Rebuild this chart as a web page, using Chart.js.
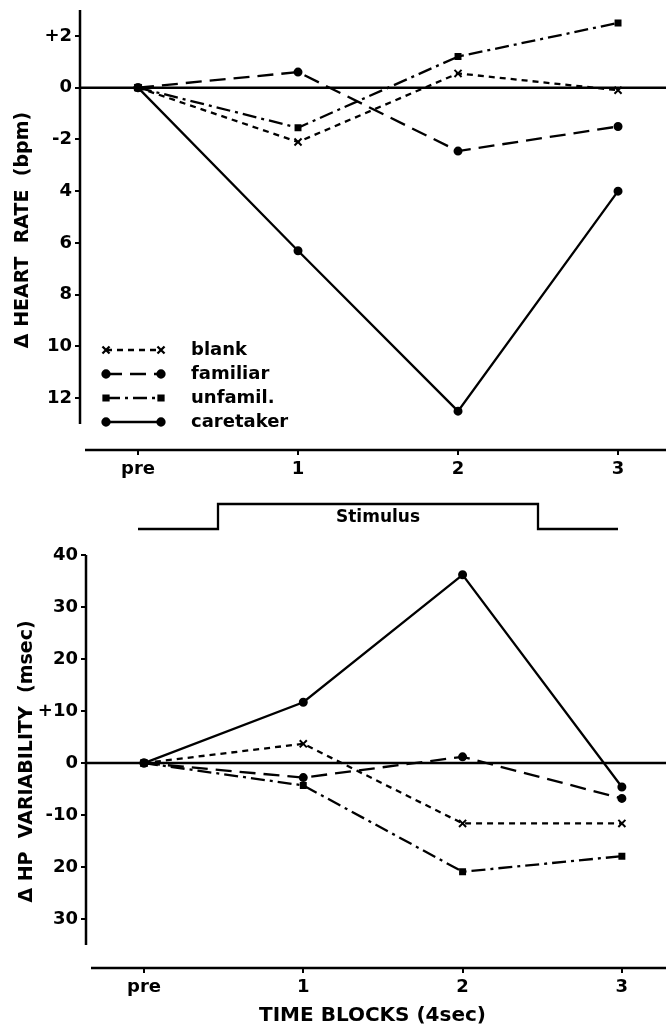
<!DOCTYPE html>
<html lang="en">
<head>
<meta charset="UTF-8" />
<title>Heart rate and HP variability</title>
<script src="https://cdn.jsdelivr.net/npm/chart.js"></script>
<style>
  body { margin: 0; background: #fff; }
  #page { position: relative; width: 666px; height: 1028px; }
  canvas { position: absolute; left: 0; }
</style>
</head>
<body>
<div id="page">
  <canvas id="hr" width="666" height="490" style="top:0"></canvas>
  <canvas id="stim" width="666" height="50" style="top:490px"></canvas>
  <canvas id="hp" width="666" height="488" style="top:540px"></canvas>
</div>
<script>
// values
var blocks = ['pre', '1', '2', '3'];
var seriesNames = ['blank', 'familiar', 'unfamil.', 'caretaker'];

var hrBlank = [0, -2.1, 0.55, -0.1];
var hrFamiliar = [0, 0.6, -2.45, -1.5];
var hrUnfamil = [0, -1.55, 1.2, 2.5];
var hrCaretaker = [0, -6.3, -12.5, -4.0];

var hpBlank = [0, 3.7, -11.6, -11.6];
var hpFamiliar = [0, -2.8, 1.2, -6.8];
var hpUnfamil = [0, -4.3, -20.9, -17.9];
var hpCaretaker = [0, 11.7, 36.2, -4.6];

var hrTicks = [2, 0, -2, -4, -6, -8, -10, -12];
var hrTickLabels = ['+2', '0', '-2', '4', '6', '8', '10', '12'];
var hpTicks = [40, 30, 20, 10, 0, -10, -20, -30];
var hpTickLabels = ['40', '30', '20', '+10', '0', '-10', '20', '30'];

var stimX = [0, 0.5, 0.5, 2.5, 2.5, 3];
var stimY = [0, 0, 1, 1, 0, 0];

Chart.defaults.font.family = "'DejaVu Sans', sans-serif";
Chart.defaults.font.weight = 'bold';
Chart.defaults.color = '#000';

// line look of each group
var styles = [
  { dash: [6, 5], point: 'crossRot', radius: 5 },
  { dash: [16, 8], point: 'circle', radius: 3.5 },
  { dash: [14, 5, 3, 5], point: 'rect', radius: 3.5 },
  { dash: [], point: 'circle', radius: 3.5 }
];

function toPoints(values) {
  return values.map(function (v, i) { return { x: i, y: v }; });
}

function makeDatasets(list) {
  return list.map(function (values, i) {
    return {
      label: seriesNames[i],
      data: toPoints(values),
      borderColor: '#000',
      backgroundColor: '#000',
      borderWidth: 2.3,
      borderDash: styles[i].dash,
      pointStyle: styles[i].point,
      pointRadius: styles[i].radius,
      pointBorderWidth: 2,
      tension: 0
    };
  });
}

// axis lines, zero line (run to the right edge of the page)
var frame = {
  id: 'frame',
  beforeDatasetsDraw: function (chart, args, opts) {
    var ctx = chart.ctx, area = chart.chartArea, y = chart.scales.y;
    ctx.save();
    ctx.strokeStyle = '#000';
    ctx.lineWidth = 2.5;
    ctx.beginPath();
    ctx.moveTo(area.left, y.getPixelForValue(0));
    ctx.lineTo(chart.width, y.getPixelForValue(0));
    ctx.stroke();
    ctx.beginPath();
    ctx.moveTo(area.left, y.getPixelForValue(opts.yTop));
    ctx.lineTo(area.left, y.getPixelForValue(opts.yBottom));
    ctx.stroke();
    ctx.beginPath();
    ctx.moveTo(area.left + opts.xGap, area.bottom);
    ctx.lineTo(chart.width, area.bottom);
    ctx.stroke();
    ctx.restore();
  }
};

// legend drawn inside the upper plot
var dashLegend = {
  id: 'dashLegend',
  afterDraw: function (chart, args, opts) {
    if (!opts.show) return;
    var ctx = chart.ctx;
    ctx.save();
    chart.data.datasets.forEach(function (ds, i) {
      var y = opts.top + i * opts.row;
      ctx.strokeStyle = '#000';
      ctx.fillStyle = '#000';
      ctx.lineWidth = 2.3;
      ctx.setLineDash(ds.borderDash);
      ctx.beginPath();
      ctx.moveTo(opts.left, y);
      ctx.lineTo(opts.left + opts.len, y);
      ctx.stroke();
      ctx.setLineDash([]);
      var p = { pointStyle: ds.pointStyle, radius: ds.pointRadius, rotation: 0, borderWidth: 2 };
      Chart.helpers.drawPoint(ctx, p, opts.left, y);
      Chart.helpers.drawPoint(ctx, p, opts.left + opts.len, y);
      ctx.font = "bold 18px 'DejaVu Sans', sans-serif";
      ctx.textBaseline = 'middle';
      ctx.fillText(ds.label, opts.textX, y);
    });
    ctx.restore();
  }
};

function yScale(ticks, labels, min, max, width, title, titlePad, titleSize) {
  return {
    type: 'linear',
    min: min,
    max: max,
    afterBuildTicks: function (s) { s.ticks = ticks.map(function (v) { return { value: v }; }); },
    afterFit: function (s) { s.width = width; s.paddingTop = 0; s.paddingBottom = 0; },
    ticks: {
      font: { size: 18, weight: 'bold' },
      padding: 3,
      callback: function (v, i) { return labels[i]; }
    },
    grid: { drawOnChartArea: false, drawTicks: true, tickLength: 5, color: '#000', lineWidth: 2 },
    border: { display: false },
    title: { display: true, text: title, font: { size: titleSize, weight: 'bold' }, padding: { top: titlePad, bottom: 0 } }
  };
}

function xScale(min, max, height, title) {
  return {
    type: 'linear',
    min: min,
    max: max,
    afterBuildTicks: function (s) { s.ticks = blocks.map(function (b, i) { return { value: i }; }); },
    afterFit: function (s) { s.height = height; s.paddingLeft = 0; s.paddingRight = 0; },
    ticks: {
      font: { size: 18, weight: 'bold' },
      padding: 4,
      callback: function (v) { return blocks[v]; }
    },
    grid: { drawOnChartArea: false, drawTicks: true, tickLength: 5, color: '#000', lineWidth: 2 },
    border: { display: false },
    title: { display: !!title, text: title || '', font: { size: 20, weight: 'bold' }, padding: { top: 0, bottom: 0 } }
  };
}

new Chart(document.getElementById('hr'), {
  type: 'line',
  data: { datasets: makeDatasets([hrBlank, hrFamiliar, hrUnfamil, hrCaretaker]) },
  options: {
    responsive: false,
    animation: false,
    layout: { padding: { top: 10, right: 0, left: 0, bottom: 0 } },
    scales: {
      x: xScale(-0.3625, 3.256, 40),
      y: yScale(hrTicks, hrTickLabels, -14, 3, 80, '\u0394 HEART  RATE  (bpm)', 12, 19)
    },
    plugins: {
      legend: { display: false },
      tooltip: { enabled: false },
      frame: { yTop: 3, yBottom: -13, xGap: 5 },
      dashLegend: { show: true, left: 106, len: 55, top: 350, row: 24, textX: 191 }
    }
  },
  plugins: [frame, dashLegend]
});

new Chart(document.getElementById('stim'), {
  type: 'line',
  data: {
    datasets: [{
      label: 'Stimulus',
      data: stimX.map(function (x, i) { return { x: x, y: stimY[i] }; }),
      borderColor: '#000',
      borderWidth: 2.3,
      pointRadius: 0,
      clip: false
    }]
  },
  options: {
    responsive: false,
    animation: false,
    layout: { padding: { top: 14, right: 0, left: 80, bottom: 11 } },
    scales: {
      x: { type: 'linear', min: -0.3625, max: 3.3, display: false },
      y: { type: 'linear', min: 0, max: 1, display: false }
    },
    plugins: { legend: { display: false }, tooltip: { enabled: false } }
  },
  plugins: [{
    id: 'stimText',
    afterDraw: function (chart) {
      var ctx = chart.ctx;
      ctx.save();
      ctx.font = "bold 17px 'DejaVu Sans', sans-serif";
      ctx.textAlign = 'center';
      ctx.textBaseline = 'middle';
      ctx.fillStyle = '#000';
      ctx.fillText('Stimulus', chart.scales.x.getPixelForValue(1.5), chart.scales.y.getPixelForValue(0.44));
      ctx.restore();
    }
  }]
});

new Chart(document.getElementById('hp'), {
  type: 'line',
  data: { datasets: makeDatasets([hpBlank, hpFamiliar, hpUnfamil, hpCaretaker]) },
  options: {
    responsive: false,
    animation: false,
    layout: { padding: { top: 15, right: 0, left: 0, bottom: 0 } },
    scales: {
      x: xScale(-0.364, 3.233, 60, 'TIME BLOCKS (4sec)'),
      y: yScale(hpTicks, hpTickLabels, -39.4, 40, 86, '\u0394 HP  VARIABILITY  (msec)', 16, 19)
    },
    plugins: {
      legend: { display: false },
      tooltip: { enabled: false },
      frame: { yTop: 40, yBottom: -35, xGap: 5 },
      dashLegend: { show: false }
    }
  },
  plugins: [frame, dashLegend]
});
</script>
</body>
</html>
